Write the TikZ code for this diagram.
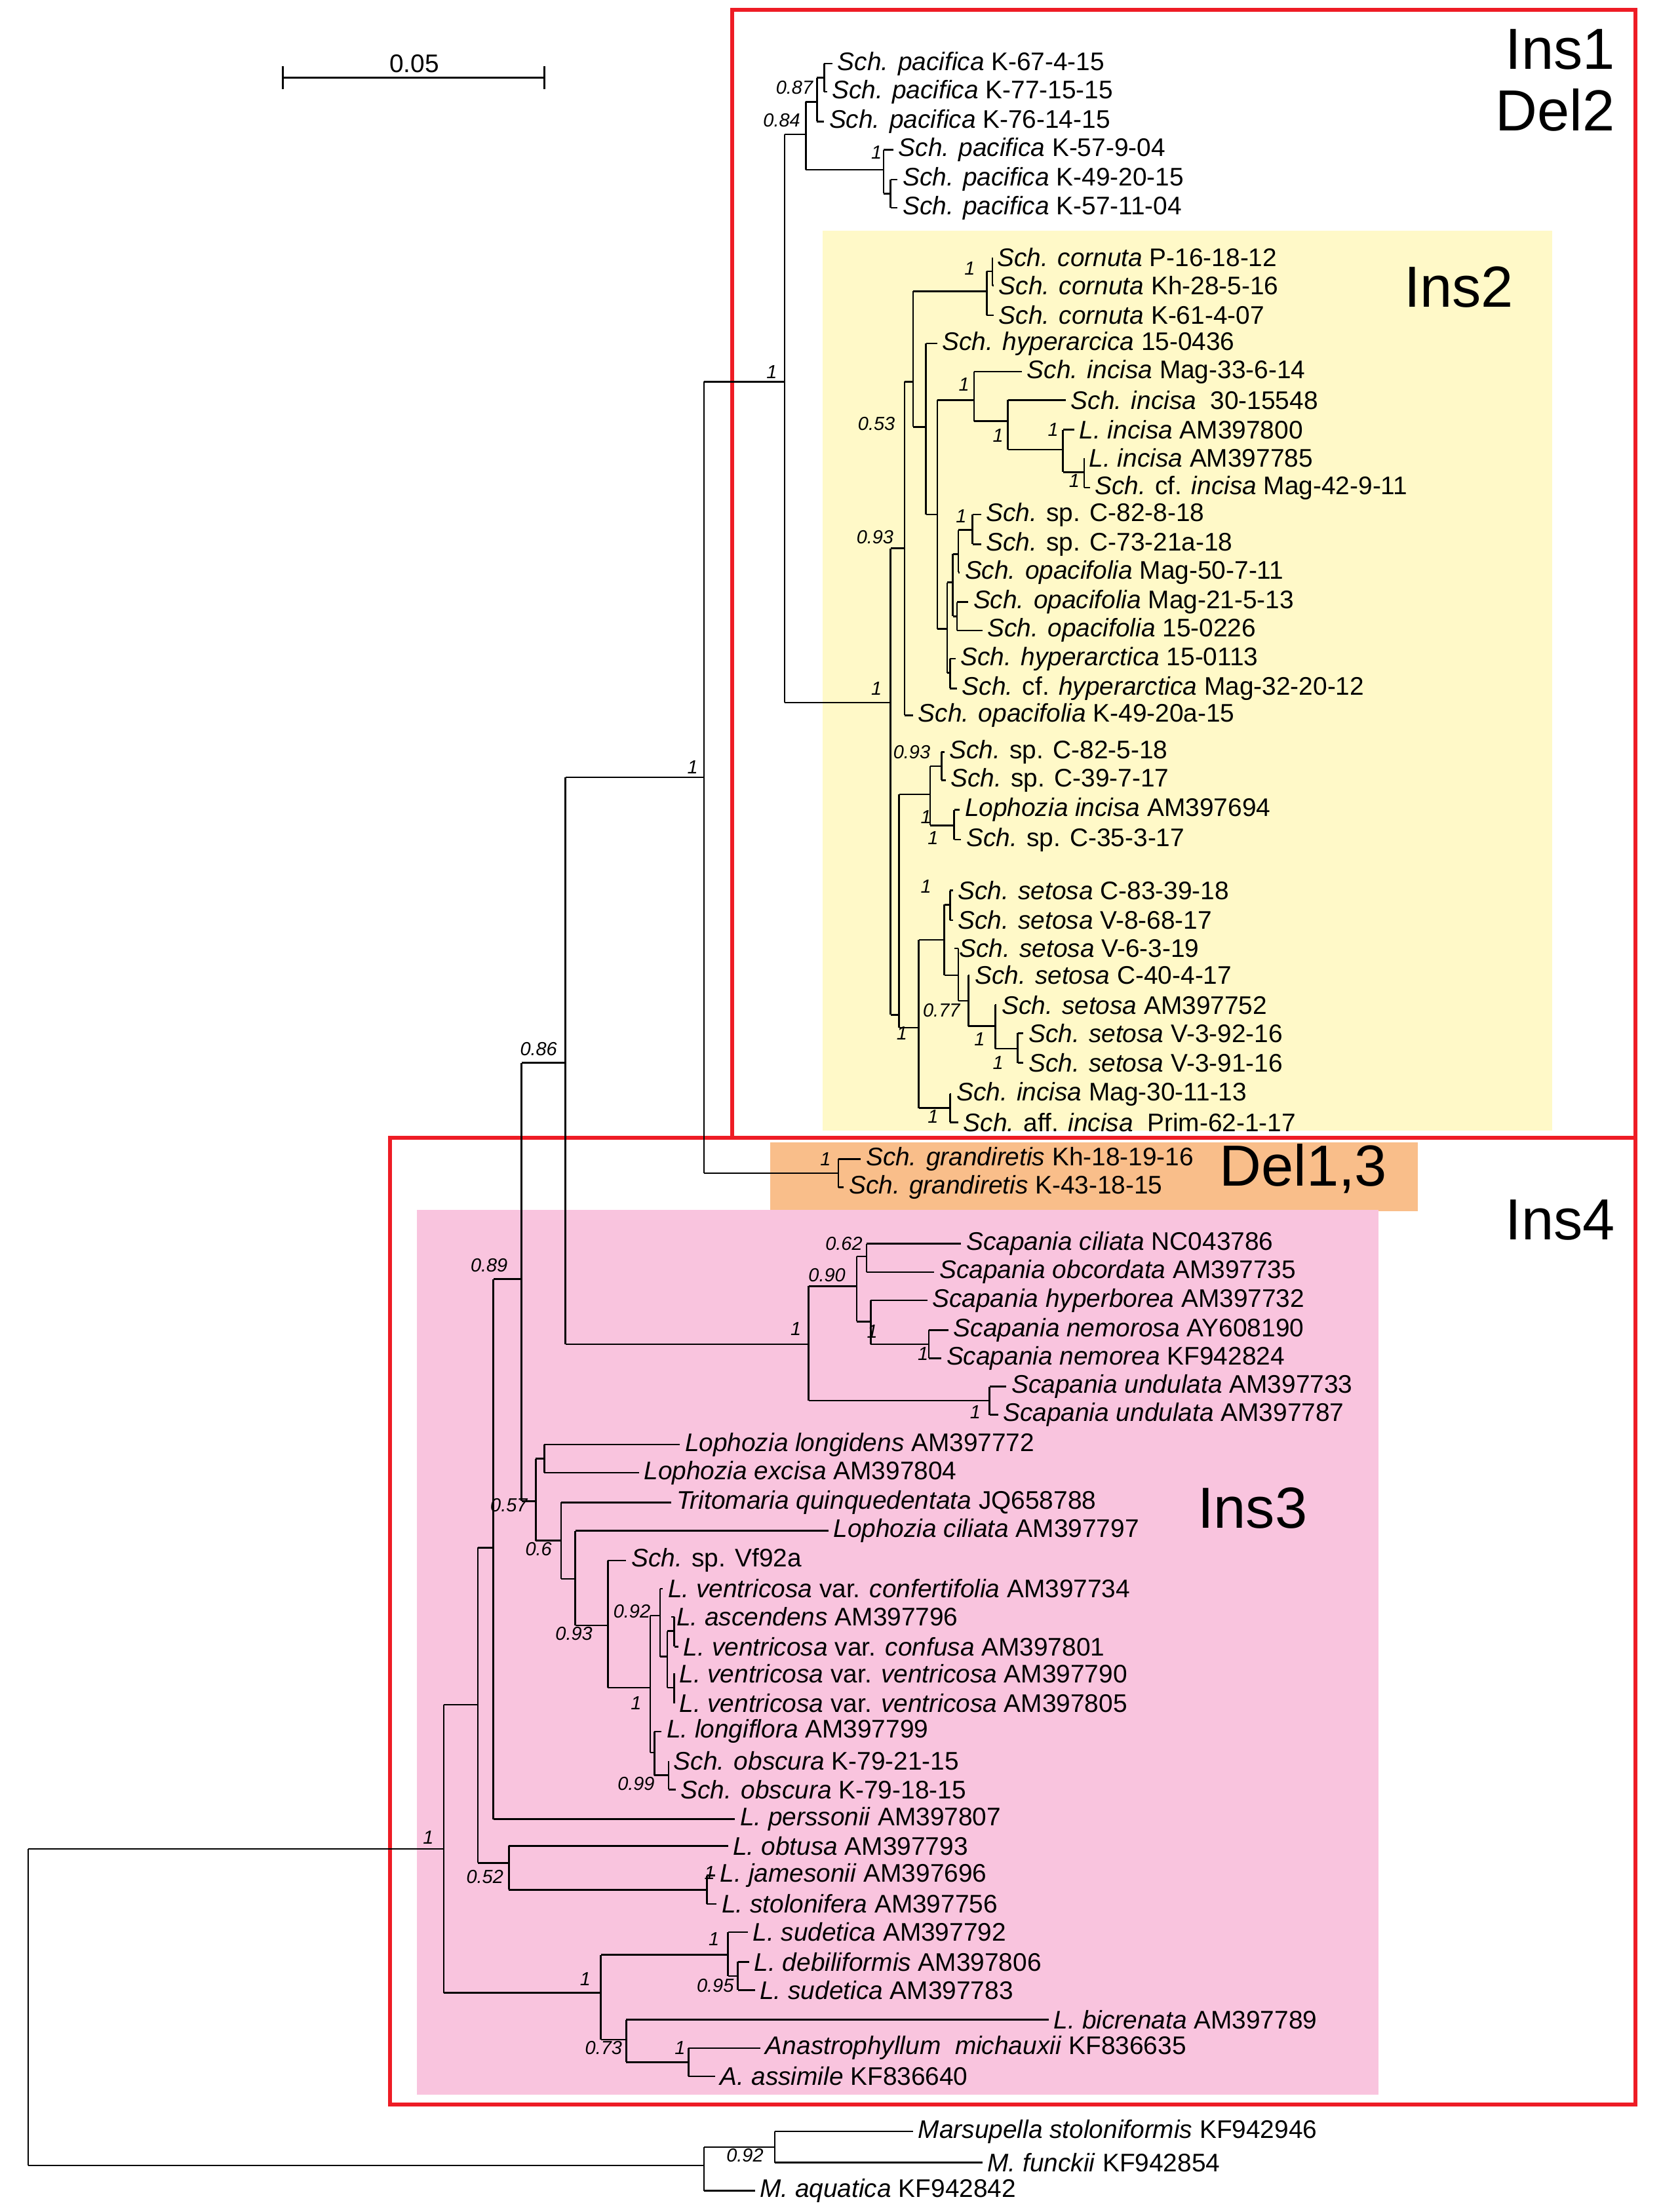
\documentclass[tikz,border=0pt]{standalone}
\usepackage{fontspec}
\setmainfont{Liberation Sans}
\definecolor{yel}{HTML}{FFF9C8}
\definecolor{org}{HTML}{F9BE8A}
\definecolor{pnk}{HTML}{F9C4DE}
\definecolor{rd}{HTML}{EE1C25}
\newcounter{svc}
\newcommand\lf[4]{\node[leaf] (#1) at (#2,#3) {#4};}
\newcommand\tl[3]{\draw (#1,#2) -- ([xshift=-1.5pt]#3.west);}
\newcommand\vb[3]{\draw (#1,#2) -- (#1,#3);}
\newcommand\hb[3]{\draw (#1,#3) -- (#2,#3);}
\newcommand\sv[3]{\stepcounter{svc}\node[supp] (s\arabic{svc}) at (#1,#2) {#3};}
\newcommand\I[1]{\textit{#1}}
\begin{document}
\begin{tikzpicture}[x=0.5pt,y=-0.5pt,
 leaf/.style={anchor=west,inner sep=0pt,font=\fontsize{9}{10}\selectfont},
 supp/.style={inner sep=0pt,font=\fontsize{6.7}{8}\selectfont\itshape},
 big/.style={inner sep=0pt,font=\fontsize{20.5}{22}\selectfont},
 line width=0.6pt]
\useasboundingbox (0,0) rectangle (1175,1565);
% backgrounds
\fill[yel] (582,163) rectangle (1098,800);
\fill[org] (545,808) rectangle (1003,857);
\fill[pnk] (295,856) rectangle (975,1482);
\draw[rd,line width=1.5pt] (518,7) rectangle (1157,805);
\draw[rd,line width=1.5pt] (276,805) rectangle (1157,1489);
\node[big,anchor=east] (t1) at (1143,35) {Ins1};
\node[big,anchor=east] (t2) at (1143,78) {Del2};
\node[big] (t3) at (1032,203) {Ins2};
\node[big] (t4) at (922,827) {Del1,3};
\node[big,anchor=east] (t5) at (1143,863) {Ins4};
\node[big] (t6) at (886,1067) {Ins3};
% scale bar
\draw (200,55) -- (385,55); \draw (200,47) -- (200,63); \draw (385,47) -- (385,63);
\node[leaf,anchor=center] (sb) at (293,45) {0.05};
% leaves
\lf{p1}{592}{45}{\I{Sch. pacifica} K-67-4-15}
\lf{p2}{588}{65}{\I{Sch. pacifica} K-77-15-15}
\lf{p3}{586}{86}{\I{Sch. pacifica} K-76-14-15}
\lf{p4}{635}{106}{\I{Sch. pacifica} K-57-9-04}
\lf{p5}{638}{127}{\I{Sch. pacifica} K-49-20-15}
\lf{p6}{638}{147}{\I{Sch. pacifica} K-57-11-04}
\lf{c1}{705}{182}{\I{Sch. cornuta} P-16-18-12}
\lf{c2}{706}{202}{\I{Sch. cornuta} Kh-28-5-16}
\lf{c3}{706}{223}{\I{Sch. cornuta} K-61-4-07}
\lf{h1}{666}{243}{\I{Sch. hyperarcica} 15-0436}
\lf{i1}{726}{263}{\I{Sch. incisa} Mag-33-6-14}
\lf{i2}{757}{283}{\I{Sch. incisa}\ \ 30-15548}
\lf{i3}{763}{304}{\I{L. incisa} AM397800}
\lf{i4}{770}{324}{\I{L. incisa} AM397785}
\lf{i5}{774}{345}{\I{Sch.} cf. \I{incisa} Mag-42-9-11}
\lf{a1}{697}{364}{\I{Sch.} sp. C-82-8-18}
\lf{a2}{697}{385}{\I{Sch.} sp. C-73-21a-18}
\lf{o1}{682}{405}{\I{Sch. opacifolia} Mag-50-7-11}
\lf{o2}{688}{426}{\I{Sch. opacifolia} Mag-21-5-13}
\lf{o3}{698}{446}{\I{Sch. opacifolia} 15-0226}
\lf{h2}{679}{466}{\I{Sch. hyperarctica} 15-0113}
\lf{h3}{680}{487}{\I{Sch.} cf. \I{hyperarctica} Mag-32-20-12}
\lf{o4}{649}{506}{\I{Sch. opacifolia} K-49-20a-15}
\lf{b1}{671}{532}{\I{Sch.} sp. C-82-5-18}
\lf{b2}{672}{552}{\I{Sch.} sp. C-39-7-17}
\lf{b3}{682}{573}{\I{Lophozia incisa} AM397694}
\lf{b4}{683}{594}{\I{Sch.} sp. C-35-3-17}
\lf{e1}{677}{630}{\I{Sch. setosa} C-83-39-18}
\lf{e2}{677}{651}{\I{Sch. setosa} V-8-68-17}
\lf{e3}{678}{671}{\I{Sch. setosa} V-6-3-19}
\lf{e4}{689}{690}{\I{Sch. setosa} C-40-4-17}
\lf{e5}{708}{711}{\I{Sch. setosa} AM397752}
\lf{e6}{727}{731}{\I{Sch. setosa} V-3-92-16}
\lf{e7}{727}{752}{\I{Sch. setosa} V-3-91-16}
\lf{f1}{676}{774}{\I{Sch. incisa} Mag-30-11-13}
\lf{f2}{681}{794}{\I{Sch.} aff. \I{incisa}\ \ Prim-62-1-17}
\lf{g1}{612}{820}{\I{Sch. grandiretis} Kh-18-19-16}
\lf{g2}{600}{840}{\I{Sch. grandiretis} K-43-18-15}
\lf{s1}{683}{880}{\I{Scapania ciliata} NC043786}
\lf{s2}{664}{900}{\I{Scapania obcordata} AM397735}
\lf{s3}{659}{920}{\I{Scapania hyperborea} AM397732}
\lf{s4}{674}{941}{\I{Scapania nemorosa} AY608190}
\lf{s5}{669}{961}{\I{Scapania nemorea} KF942824}
\lf{s6}{715}{981}{\I{Scapania undulata} AM397733}
\lf{s7}{709}{1001}{\I{Scapania undulata} AM397787}
\lf{q1}{484}{1022}{\I{Lophozia longidens} AM397772}
\lf{q2}{455}{1042}{\I{Lophozia excisa} AM397804}
\lf{q3}{478}{1063}{\I{Tritomaria quinquedentata} JQ658788}
\lf{q4}{589}{1083}{\I{Lophozia ciliata} AM397797}
\lf{q5}{446}{1104}{\I{Sch.} sp. Vf92a}
\lf{v1}{472}{1124}{\I{L. ventricosa} var. \I{confertifolia} AM397734}
\lf{v2}{478}{1144}{\I{L. ascendens} AM397796}
\lf{v3}{483}{1165}{\I{L. ventricosa} var. \I{confusa} AM397801}
\lf{v4}{480}{1184}{\I{L. ventricosa} var. \I{ventricosa} AM397790}
\lf{v5}{480}{1205}{\I{L. ventricosa} var. \I{ventricosa} AM397805}
\lf{v6}{471}{1225}{\I{L. longiflora} AM397799}
\lf{v7}{476}{1246}{\I{Sch. obscura} K-79-21-15}
\lf{v8}{481}{1266}{\I{Sch. obscura} K-79-18-15}
\lf{r1}{523}{1287}{\I{L. perssonii} AM397807}
\lf{r2}{518}{1306}{\I{L. obtusa} AM397793}
\lf{r3}{509}{1327}{\I{L. jamesonii} AM397696}
\lf{r4}{510}{1347}{\I{L. stolonifera} AM397756}
\lf{r5}{532}{1367}{\I{L. sudetica} AM397792}
\lf{r6}{533}{1388}{\I{L. debiliformis} AM397806}
\lf{r7}{537}{1408}{\I{L. sudetica} AM397783}
\lf{r8}{745}{1429}{\I{L. bicrenata} AM397789}
\lf{r9}{541}{1449}{\I{Anastrophyllum\ \ michauxii} KF836635}
\lf{r10}{509}{1469}{\I{A. assimile} KF836640}
\lf{m1}{649}{1508}{\I{Marsupella stoloniformis} KF942946}
\lf{m2}{698}{1530}{\I{M. funckii} KF942854}
\lf{m3}{537}{1550}{\I{M. aquatica} KF942842}
% tree
\vb{20}{1308}{1532} \hb{20}{314}{1308} \hb{20}{498}{1532}
\vb{498}{1519}{1550} \hb{498}{548}{1519} \tl{498}{1550}{m3}
\vb{548}{1508}{1530} \tl{548}{1508}{m1} \tl{548}{1530}{m2}
\vb{314}{1206}{1410} \hb{314}{338}{1206} \hb{314}{425}{1410}
\vb{338}{1095}{1318} \hb{338}{349}{1095} \hb{338}{360}{1318}
\vb{360}{1306}{1337} \tl{360}{1306}{r2} \hb{360}{500}{1337}
\vb{500}{1327}{1347} \tl{500}{1327}{r3} \tl{500}{1347}{r4}
\vb{425}{1383}{1443} \hb{425}{515}{1383} \hb{425}{443}{1443}
\vb{515}{1367}{1398} \tl{515}{1367}{r5} \hb{515}{522}{1398}
\vb{522}{1388}{1408} \tl{522}{1388}{r6} \tl{522}{1408}{r7}
\vb{443}{1429}{1459} \tl{443}{1429}{r8} \hb{443}{487}{1459}
\vb{487}{1449}{1469} \tl{487}{1449}{r9} \tl{487}{1469}{r10}
\vb{349}{905}{1287} \hb{349}{369}{905} \tl{349}{1287}{r1}
\vb{369}{752}{1062} \hb{369}{400}{752} \hb{369}{379}{1062}
\vb{379}{1032}{1090} \hb{379}{385}{1032} \hb{379}{397}{1090}
\vb{385}{1022}{1042} \tl{385}{1022}{q1} \tl{385}{1042}{q2}
\vb{397}{1063}{1117} \tl{397}{1063}{q3} \hb{397}{407}{1117}
\vb{407}{1083}{1150} \tl{407}{1083}{q4} \hb{407}{430}{1150}
\vb{430}{1104}{1194} \tl{430}{1104}{q5} \hb{430}{460}{1194}
\vb{460}{1143}{1240} \hb{460}{467}{1143} \hb{460}{463}{1240}
\vb{467}{1124}{1172} \tl{467}{1124}{v1} \hb{467}{472}{1172}
\vb{472}{1154}{1194} \hb{472}{477}{1154} \hb{472}{477}{1194}
\vb{477}{1144}{1165} \tl{477}{1144}{v2} \tl{477}{1165}{v3}
\vb{477}{1184}{1205} \tl{477}{1184}{v4} \tl{477}{1205}{v5}
\vb{463}{1225}{1256} \tl{463}{1225}{v6} \hb{463}{473}{1256}
\vb{473}{1246}{1266} \tl{473}{1246}{v7} \tl{473}{1266}{v8}
\vb{400}{550}{951} \hb{400}{498}{550} \hb{400}{572}{951}
\vb{572}{910}{991} \hb{572}{606}{910} \hb{572}{700}{991}
\vb{700}{981}{1001} \tl{700}{981}{s6} \tl{700}{1001}{s7}
\vb{606}{889}{935} \hb{606}{613}{889}
\vb{613}{880}{900} \tl{613}{880}{s1} \tl{613}{900}{s2}
\hb{606}{616}{935} \vb{616}{920}{951} \tl{616}{920}{s3} \hb{616}{657}{951}
\vb{657}{941}{961} \tl{657}{941}{s4} \tl{657}{961}{s5}
\vb{498}{270}{830} \hb{498}{555}{270} \hb{498}{593}{830}
\vb{593}{820}{840} \tl{593}{820}{g1} \tl{593}{840}{g2}
\vb{555}{95}{497} \hb{555}{570}{95} \hb{555}{630}{497}
\vb{570}{72}{120} \hb{570}{578}{72} \vb{578}{55}{86} \hb{578}{583}{55}
\vb{583}{45}{65} \tl{583}{45}{p1} \tl{583}{65}{p2} \tl{578}{86}{p3}
\hb{570}{625}{120} \vb{625}{106}{137} \tl{625}{106}{p4} \hb{625}{630}{137}
\vb{630}{127}{147} \tl{630}{127}{p5} \tl{630}{147}{p6}
\vb{630}{388}{718} \hb{630}{640}{388} \hb{630}{636}{718}
\vb{640}{270}{506} \hb{640}{646}{270} \tl{640}{506}{o4}
\vb{646}{206}{302} \hb{646}{698}{206} \hb{646}{655}{302}
\vb{698}{192}{223} \hb{698}{702}{192} \vb{702}{182}{202}
\tl{702}{182}{c1} \tl{702}{202}{c2} \tl{698}{223}{c3}
\vb{655}{243}{364} \tl{655}{243}{h1} \hb{655}{663}{364}
\vb{663}{283}{445} \hb{663}{689}{283} \hb{663}{670}{445}
\vb{689}{263}{298} \tl{689}{263}{i1} \hb{689}{713}{298}
\vb{713}{283}{318} \tl{713}{283}{i2} \hb{713}{752}{318}
\vb{752}{304}{334} \tl{752}{304}{i3} \hb{752}{767}{334}
\vb{767}{324}{345} \tl{767}{324}{i4} \tl{767}{345}{i5}
\vb{670}{412}{476} \hb{670}{674}{412} \hb{670}{672}{476}
\vb{672}{466}{487} \tl{672}{466}{h2} \tl{672}{487}{h3}
\vb{674}{392}{436} \hb{674}{678}{392} \hb{674}{677}{436}
\vb{677}{426}{446} \tl{677}{426}{o2} \tl{677}{446}{o3}
\vb{678}{375}{405} \hb{678}{688}{375} \tl{678}{405}{o1}
\vb{688}{364}{385} \tl{688}{364}{a1} \tl{688}{385}{a2}
\vb{636}{562}{727} \hb{636}{658}{562} \hb{636}{650}{727}
\vb{658}{542}{584} \hb{658}{666}{542} \vb{666}{532}{552}
\tl{666}{532}{b1} \tl{666}{552}{b2}
\hb{658}{675}{584} \vb{675}{573}{594} \tl{675}{573}{b3} \tl{675}{594}{b4}
\vb{650}{665}{784} \hb{650}{668}{665} \hb{650}{672}{784}
\vb{672}{774}{794} \tl{672}{774}{f1} \tl{672}{794}{f2}
\vb{668}{640}{690} \hb{668}{672}{640} \vb{672}{630}{651}
\tl{672}{630}{e1} \tl{672}{651}{e2} \hb{668}{678}{690}
\vb{678}{671}{708} \tl{678}{671}{e3} \hb{678}{685}{708}
\vb{685}{690}{726} \tl{685}{690}{e4} \hb{685}{704}{726}
\vb{704}{711}{742} \tl{704}{711}{e5} \hb{704}{720}{742}
\vb{720}{731}{752} \tl{720}{731}{e6} \tl{720}{752}{e7}
% support values
\sv{562}{62}{0.87} \sv{553}{85}{0.84} \sv{620}{108}{1}
\sv{546}{263}{1} \sv{686}{190}{1} \sv{682}{272}{1} \sv{706}{308}{1}
\sv{745}{304}{1} \sv{760}{340}{1} \sv{620}{300}{0.53} \sv{619}{380}{0.93}
\sv{680}{365}{1} \sv{620}{487}{1} \sv{645}{532}{0.93} \sv{655}{578}{1}
\sv{660}{593}{1} \sv{655}{627}{1} \sv{666}{715}{0.77} \sv{638}{731}{1}
\sv{693}{735}{1} \sv{706}{752}{1} \sv{660}{790}{1} \sv{490}{543}{1}
\sv{584}{820}{1} \sv{381}{742}{0.86} \sv{597}{880}{0.62} \sv{585}{902}{0.90}
\sv{563}{940}{1} \sv{617}{942}{1} \sv{653}{958}{1} \sv{690}{999}{1}
\sv{346}{895}{0.89} \sv{360}{1065}{0.57} \sv{381}{1096}{0.6}
\sv{406}{1156}{0.93} \sv{447}{1140}{0.92} \sv{450}{1205}{1} \sv{450}{1262}{0.99}
\sv{303}{1300}{1} \sv{343}{1328}{0.52} \sv{502}{1325}{1} \sv{505}{1372}{1}
\sv{506}{1405}{0.95} \sv{414}{1400}{1} \sv{427}{1449}{0.73} \sv{481}{1449}{1}
\sv{527}{1525}{0.92}
\end{tikzpicture}
\end{document}
